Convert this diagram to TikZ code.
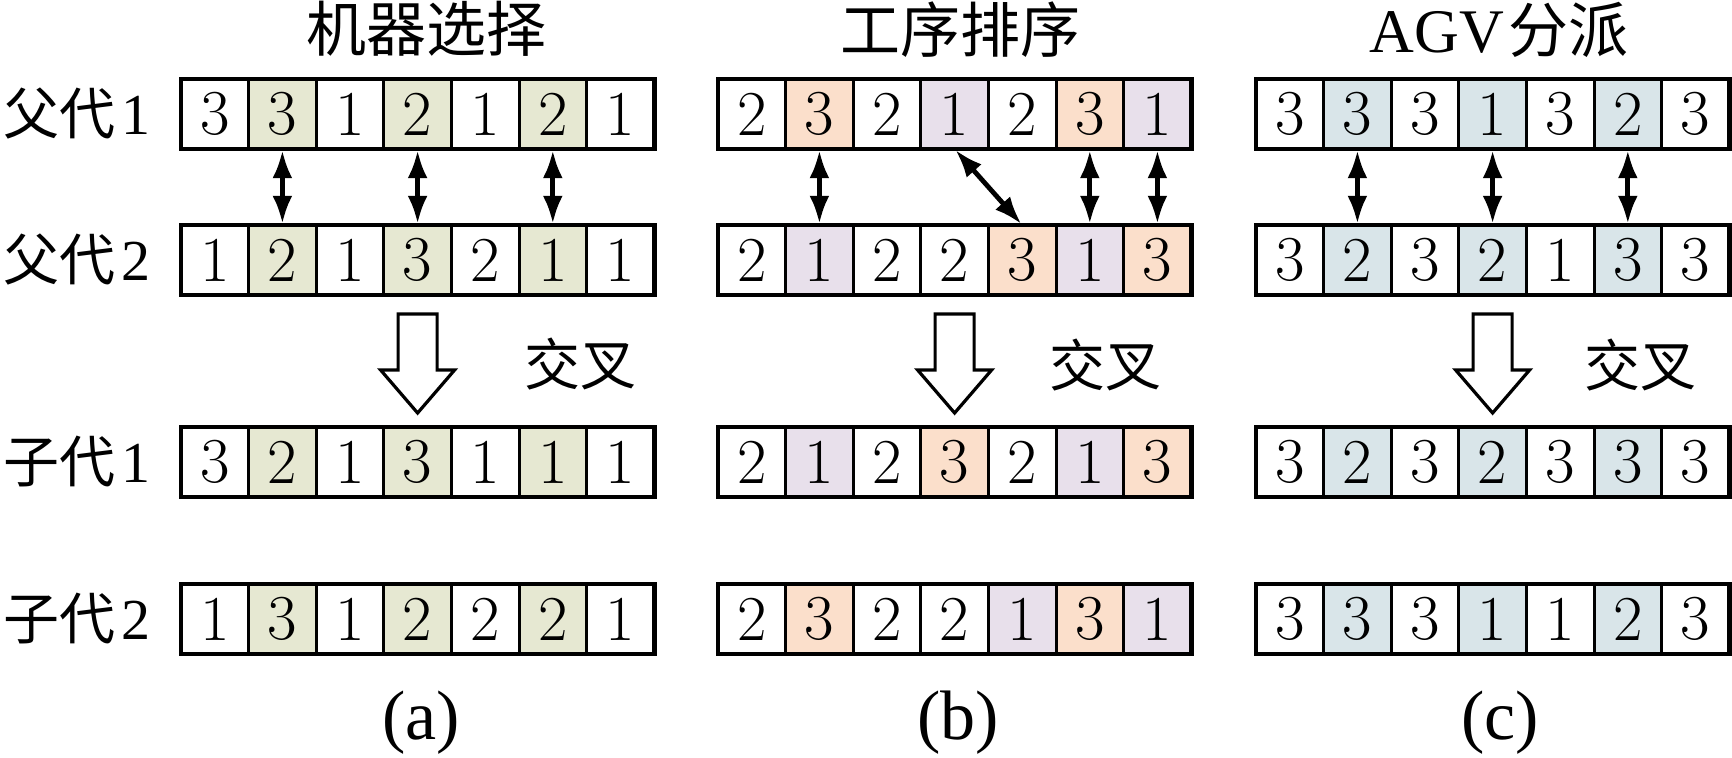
\documentclass[tikz,border=0pt]{standalone}
\usepackage{fontspec}
\newfontfamily\cjk{Noto Sans CJK SC}
\newfontfamily\tnr{Liberation Serif}
\usetikzlibrary{arrows.meta}
\definecolor{cg}{RGB}{230,232,210}
\definecolor{co}{RGB}{251,223,203}
\definecolor{cp}{RGB}{232,224,235}
\definecolor{cb}{RGB}{217,229,233}
\definecolor{cw}{RGB}{255,255,255}
\tikzset{
  cellbox/.style={draw, line width=1.5pt, minimum width=33.8pt, minimum height=35pt,
    inner sep=0pt, outer sep=0pt, font=\fontsize{32}{32}\selectfont},
  outerbox/.style={draw, line width=2.4pt, line join=miter},
  dbl/.style={{Latex[length=14pt,width=10pt]}-{Latex[length=14pt,width=10pt]}, line width=2.4pt, shorten <=0.6pt, shorten >=0.6pt},
  hollow/.style={draw, fill=white, line width=1.6pt, line join=miter},
  lab/.style={anchor=west, inner sep=0pt, font=\fontsize{28}{28}\selectfont},
  ttl/.style={inner sep=0pt, font=\fontsize{30}{30}\selectfont},
  cross/.style={inner sep=0pt, font=\fontsize{28}{28}\selectfont\cjk},
  sub/.style={inner sep=0pt, font=\fontsize{35}{35}\selectfont\tnr}
}
\newcommand\digitlab[1]{\hspace{3pt}{\tnr\fontsize{29}{29}\selectfont #1}}
\newcommand\genrow[5]{%
  \foreach \v/\col [count=\i] in {#5} {
    \node[cellbox, fill=c\col] (#1#2-\i) at ({#3+(\i-0.5)*67.6},#4) {\v};
  }
  \draw[outerbox] (#1#2-1.north west) rectangle (#1#2-7.south east);
}
\newcommand\hollowarrow[1]{%
  \draw[hollow] ({#1-19.5},314) -- ({#1+19.5},314) -- ({#1+19.5},370) -- ({#1+37},370)
    -- (#1,413) -- ({#1-37},370) -- ({#1-19.5},370) -- cycle;
}
\begin{document}
\begin{tikzpicture}[x={(0.5pt,0)}, y={(0,-0.5pt)}]
\useasboundingbox (0,0) rectangle (1732,758);
% left labels
\node[lab] (l1) at (3,114) {\cjk 父代\digitlab{1}};
\node[lab] (l2) at (3,260) {\cjk 父代\digitlab{2}};
\node[lab] (l3) at (3,462) {\cjk 子代\digitlab{1}};
\node[lab] (l4) at (3,619) {\cjk 子代\digitlab{2}};
% ---------- panel a ----------
\node[ttl] (ta) at (426,29) {\cjk 机器选择};
\genrow{a}{p}{181}{114}{3/w,3/g,1/w,2/g,1/w,2/g,1/w}
\genrow{a}{q}{181}{260}{1/w,2/g,1/w,3/g,2/w,1/g,1/w}
\genrow{a}{r}{181}{462}{3/w,2/g,1/w,3/g,1/w,1/g,1/w}
\genrow{a}{s}{181}{619}{1/w,3/g,1/w,2/g,2/w,2/g,1/w}
\draw[dbl] (ap-2.south) -- (aq-2.north);
\draw[dbl] (ap-4.south) -- (aq-4.north);
\draw[dbl] (ap-6.south) -- (aq-6.north);
\hollowarrow{417.6}
\node[cross] (xa) at (580,364) {交叉};
\node[sub] (sa) at (421,723) {(a)};
% ---------- panel b ----------
\node[ttl] (tb) at (960,30) {\cjk 工序排序};
\genrow{b}{p}{718}{114}{2/w,3/o,2/w,1/p,2/w,3/o,1/p}
\genrow{b}{q}{718}{260}{2/w,1/p,2/w,2/w,3/o,1/p,3/o}
\genrow{b}{r}{718}{462}{2/w,1/p,2/w,3/o,2/w,1/p,3/o}
\genrow{b}{s}{718}{619}{2/w,3/o,2/w,2/w,1/p,3/o,1/p}
\draw[dbl] (bp-2.south) -- (bq-2.north);
\draw[dbl] (bp-4.south) -- (bq-5.north);
\draw[dbl] (bp-6.south) -- (bq-6.north);
\draw[dbl] (bp-7.south) -- (bq-7.north);
\hollowarrow{954.6}
\node[cross] (xb) at (1105,365) {交叉};
\node[sub] (sb) at (958,723) {(b)};
% ---------- panel c ----------
\node[ttl] (tc) at (1499,30) {{\tnr\fontsize{31}{31}\selectfont AGV}\hspace{2pt}\cjk 分派};
\genrow{c}{p}{1256}{114}{3/w,3/b,3/w,1/b,3/w,2/b,3/w}
\genrow{c}{q}{1256}{260}{3/w,2/b,3/w,2/b,1/w,3/b,3/w}
\genrow{c}{r}{1256}{462}{3/w,2/b,3/w,2/b,3/w,3/b,3/w}
\genrow{c}{s}{1256}{619}{3/w,3/b,3/w,1/b,1/w,2/b,3/w}
\draw[dbl] (cp-2.south) -- (cq-2.north);
\draw[dbl] (cp-4.south) -- (cq-4.north);
\draw[dbl] (cp-6.south) -- (cq-6.north);
\hollowarrow{1492.6}
\node[cross] (xc) at (1640,365) {交叉};
\node[sub] (sc) at (1500,723) {(c)};
\end{tikzpicture}
\end{document}
